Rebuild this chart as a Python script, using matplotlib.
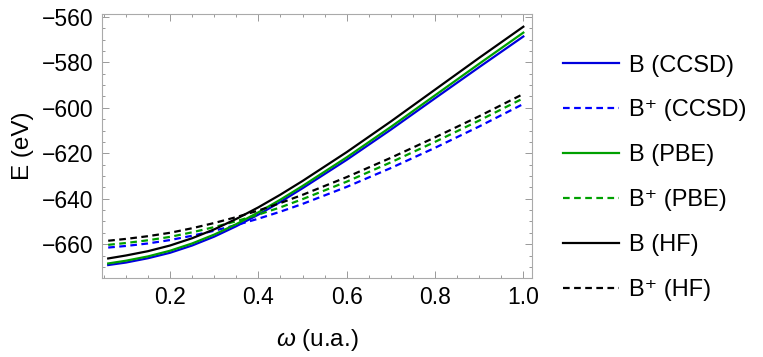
import matplotlib
matplotlib.use("Agg")
import matplotlib.pyplot as plt
from matplotlib.ticker import MultipleLocator

plt.rcParams['font.family'] = ['Liberation Sans', 'DejaVu Sans']
plt.rcParams['mathtext.fontset'] = 'custom'
plt.rcParams['mathtext.it'] = 'Liberation Sans:italic'
plt.rcParams['mathtext.rm'] = 'Liberation Sans'

# omega values (u.a.)
w = [0.06, 0.1, 0.15, 0.2, 0.25, 0.3, 0.35, 0.4, 0.45, 0.5, 0.6, 0.7, 0.8, 0.9, 1.0]

# energies (eV)
b_ccsd = [-669.2, -668.1, -666.2, -663.8, -660.6, -656.7, -652.1, -647.0, -641.4, -635.4,
          -622.9, -609.6, -595.8, -582.1, -568.6]
bp_ccsd = [-661.5, -660.8, -659.7, -658.2, -656.3, -654.1, -651.6, -648.8, -645.7, -642.3,
           -634.8, -626.5, -617.6, -608.2, -598.3]
b_pbe = [-668.5, -667.3, -665.4, -662.9, -659.7, -655.8, -651.2, -646.0, -640.4, -634.4,
         -621.8, -608.4, -594.5, -580.6, -566.9]
bp_pbe = [-660.3, -659.5, -658.3, -656.8, -654.8, -652.5, -649.9, -647.0, -643.8, -640.2,
          -632.5, -624.0, -615.0, -605.6, -595.8]
b_hf = [-666.3, -665.0, -663.1, -660.6, -657.4, -653.5, -648.9, -643.8, -638.2, -632.2,
        -619.5, -606.0, -592.0, -578.0, -564.3]
bp_hf = [-658.5, -657.7, -656.5, -655.0, -653.0, -650.7, -648.1, -645.2, -641.9, -638.3,
         -630.5, -622.0, -613.0, -603.7, -593.9]

labels = ['B (CCSD)', 'B\u207a (CCSD)', 'B (PBE)', 'B\u207a (PBE)', 'B (HF)', 'B\u207a (HF)']
series = [b_ccsd, bp_ccsd, b_pbe, bp_pbe, b_hf, bp_hf]
colors = ['#0000DD', '#0000FF', '#00A000', '#00A000', 'black', 'black']
dashed = [False, True, False, True, False, True]

fig = plt.figure(figsize=(7.63, 3.57), dpi=100)
ax = fig.add_axes([0.1337, 0.2213, 0.5632, 0.7395])

for y, c, d, lab in zip(series, colors, dashed, labels):
    if d:
        ax.plot(w, y, color=c, lw=1.6, dashes=(3, 2), label=lab)
    else:
        ax.plot(w, y, color=c, lw=1.6, label=lab)

ax.set_xlim(0.046, 1.019)
ax.set_ylim(-674.9, -558.7)
ax.xaxis.set_major_locator(MultipleLocator(0.2))
ax.xaxis.set_minor_locator(MultipleLocator(0.05))
ax.yaxis.set_major_locator(MultipleLocator(20))
ax.yaxis.set_minor_locator(MultipleLocator(5))
ax.xaxis.set_major_formatter(plt.FuncFormatter(lambda v, p: f'{v:.1f}'))
ax.yaxis.set_major_formatter(plt.FuncFormatter(lambda v, p: f'\u2212{abs(v):.0f}' if v < 0 else f'{v:.0f}'))

for s in ax.spines.values():
    s.set_color('#aaaaaa')
    s.set_linewidth(0.8)
ax.tick_params(which='both', direction='in', top=True, right=True, color='#999999', labelsize=16.5, width=0.7)
ax.tick_params(which='major', length=5, pad=6)
ax.tick_params(which='minor', length=2.5)
ax.tick_params(axis='x', labeltop=False)
ax.tick_params(axis='y', labelright=False)

ax.set_xlabel(r'$\omega$ (u.a.)', fontsize=17.5, labelpad=13)
ax.set_ylabel('E (eV)', fontsize=17.5, labelpad=6)

fig.legend(loc='center left', bbox_to_anchor=(0.738, 0.502), frameon=False, fontsize=17,
           borderaxespad=0, borderpad=0,
           handlelength=2.35, handletextpad=0.45, labelspacing=0.97)

fig.savefig('out.png', dpi=100)
